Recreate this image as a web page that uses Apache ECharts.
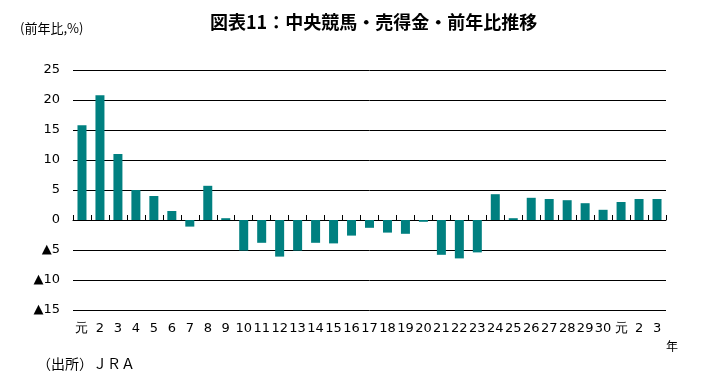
<!DOCTYPE html>
<html><head><meta charset="utf-8">
<script src="https://cdn.jsdelivr.net/npm/echarts@6/dist/echarts.min.js"></script>
<style>html,body{margin:0;padding:0;background:#fff}#c{width:707px;height:385px}</style>
</head><body><div id="c"></div>
<script>
const categories = ['元','2','3','4','5','6','7','8','9','10','11','12','13','14','15','16','17','18','19','20','21','22','23','24','25','26','27','28','29','30','元','2','3'];
const values = [15.8,20.8,11.0,5.0,4.0,1.5,-1.1,5.7,0.3,-5.1,-3.8,-6.1,-5.1,-3.8,-3.9,-2.6,-1.3,-2.1,-2.3,-0.3,-5.8,-6.4,-5.4,4.3,0.3,3.7,3.5,3.3,2.8,1.7,3.0,3.5,3.5];
const yTicks = {min:-15, max:25, interval:5};
const titleText = '図表11：中央競馬・売得金・前年比推移';
const yName = '(前年比,%)';
const xName = '年';
const sourceText = '（出所）ＪＲＡ';

const chart = echarts.init(document.getElementById('c'), null, {renderer:'canvas'});
const lblFont = 'Verdana, "DejaVu Sans", sans-serif';
chart.setOption({
  animation:false,
  title:{text:titleText,left:205,top:8,textStyle:{fontSize:18,fontWeight:'bold',color:'#000',fontFamily:'"Noto Sans CJK JP", sans-serif'}},
  graphic:[
    {type:'text',left:20,top:22,style:{text:yName,fill:'#000',font:'13px "Noto Sans CJK JP", sans-serif'}},
    {type:'text',left:666,top:340,style:{text:xName,fill:'#000',font:'12px "Noto Sans CJK JP", sans-serif'}},
    {type:'text',left:37,top:357,style:{text:sourceText,fill:'#000',font:'14px "Noto Sans CJK JP", sans-serif'}}
  ],
  grid:{left:73,right:41,top:70,bottom:75},
  xAxis:[
    {type:'category',data:categories,position:'bottom',axisLine:{show:false,onZero:false},axisTick:{show:false},
     axisLabel:{interval:0,margin:12,color:'#000',fontSize:13,fontFamily:lblFont}},
    {type:'category',data:categories,position:'bottom',axisLine:{show:true,onZero:true,lineStyle:{color:'#000',width:1}},
     axisTick:{show:true,inside:true,length:5,lineStyle:{color:'#000'}},axisLabel:{show:false}}
  ],
  yAxis:{type:'value',min:yTicks.min,max:yTicks.max,interval:yTicks.interval,
    axisLine:{show:false},axisTick:{show:false},
    splitLine:{lineStyle:{color:'#000',width:1}},
    axisLabel:{margin:13,color:'#000',fontSize:13,fontFamily:lblFont,
      formatter:v=>v<0?'▲'+(-v):String(v)}},
  series:[{type:'bar',data:values,barWidth:9,itemStyle:{color:'#008080'}}]
});
</script></body></html>
